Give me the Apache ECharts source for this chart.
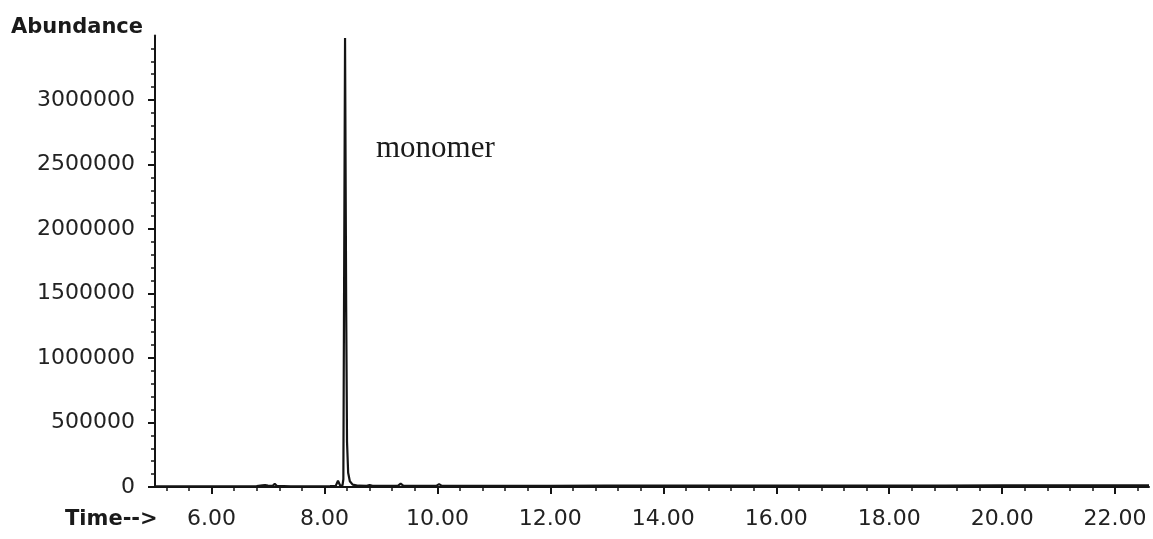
<!DOCTYPE html>
<html>
<head>
<meta charset="utf-8">
<script src="https://cdn.jsdelivr.net/npm/echarts@6/dist/echarts.min.js"></script>
<style>
  html, body { margin: 0; padding: 0; background: #ffffff; }
  #chart { width: 1153px; height: 539px; }
</style>
</head>
<body>
<div id="chart"></div>
<script>
// Retention time (min) and abundance
const times = [5.0, 5.5, 6.0, 6.5, 6.8, 6.9, 6.95, 7.0, 7.08, 7.12, 7.16, 7.4, 7.8, 8.1, 8.2, 8.24, 8.28, 8.32, 8.335, 8.365, 8.385, 8.40, 8.42, 8.45, 8.50, 8.6, 8.75, 8.8, 8.85, 9.0, 9.3, 9.35, 9.4, 9.7, 9.98, 10.03, 10.08, 11.0, 12.0, 13.0, 14.0, 15.0, 16.0, 17.0, 18.0, 19.0, 20.0, 21.0, 22.0, 22.6];
const abundance = [5000, 5000, 5000, 6000, 7000, 12000, 14000, 11000, 8000, 24000, 8000, 6000, 6000, 7000, 9000, 48000, 10000, 12000, 60000, 3480000, 1400000, 350000, 110000, 45000, 18000, 10000, 9000, 16000, 9000, 9000, 9000, 26000, 9000, 9000, 9000, 22000, 9000, 9000, 9000, 10000, 10000, 10000, 10000, 11000, 11000, 11000, 12000, 12000, 12000, 12000];

const xTickValues = [6, 8, 10, 12, 14, 16, 18, 20, 22];
const yTickValues = [0, 500000, 1000000, 1500000, 2000000, 2500000, 3000000];
const yAxisTitle = 'Abundance';
const xAxisTitle = 'Time-->';
const peakLabel = 'monomer';

const xMinorValues = [];
for (let k = 13; k <= 56; k++) {
  const v = Math.round(k * 0.4 * 100) / 100;
  if (Math.abs(v / 2 - Math.round(v / 2)) > 1e-6) xMinorValues.push(v);
}

const ink = '#141414';
const chart = echarts.init(document.getElementById('chart'), null, { renderer: 'canvas' });
chart.setOption({
  backgroundColor: '#ffffff',
  animation: false,
  grid: { left: 155, right: 4, top: 35.5, bottom: 52, containLabel: false },
  xAxis: [
    {
      type: 'value', min: 5, max: 22.6, position: 'bottom',
      axisLine: { show: true, onZero: false, lineStyle: { color: ink, width: 2 } },
      axisTick: { show: true, customValues: xTickValues, length: 7, lineStyle: { color: ink, width: 2 } },
      axisLabel: {
        show: true, customValues: xTickValues, margin: 21,
        formatter: v => v.toFixed(2),
        fontFamily: 'DejaVu Sans', fontSize: 22, color: '#222'
      },
      splitLine: { show: false }
    },
    {
      type: 'value', min: 5, max: 22.6, position: 'bottom',
      axisLine: { show: false },
      axisTick: { show: true, customValues: xMinorValues, length: 4, lineStyle: { color: ink, width: 1.5 } },
      axisLabel: { show: false },
      splitLine: { show: false }
    }
  ],
  yAxis: {
    type: 'value', min: 0, max: 3500000, interval: 500000,
    axisLine: { show: true, lineStyle: { color: ink, width: 2 } },
    axisTick: { show: true, customValues: yTickValues, length: 7, lineStyle: { color: ink, width: 2 } },
    minorTick: { show: true, splitNumber: 5, length: 4, lineStyle: { color: ink, width: 1.5 } },
    axisLabel: {
      show: true, customValues: yTickValues, margin: 20,
      formatter: v => String(v),
      fontFamily: 'DejaVu Sans', fontSize: 22, color: '#222'
    },
    splitLine: { show: false }
  },
  series: [{
    type: 'line',
    xAxisIndex: 0,
    data: times.map((t, i) => [t, abundance[i]]),
    showSymbol: false,
    symbol: 'none',
    lineStyle: { color: ink, width: 2.2 },
    z: 3
  }],
  graphic: [
    { type: 'text', left: 11, top: 17, style: { text: yAxisTitle, font: 'bold 21px "DejaVu Sans"', fill: '#1a1a1a' } },
    { type: 'text', left: 65, top: 509, style: { text: xAxisTitle, font: 'bold 21px "DejaVu Sans"', fill: '#1a1a1a' } },
    { type: 'text', left: 376, top: 133, style: { text: peakLabel, font: '31px "Liberation Serif"', fill: '#1a1a1a' } }
  ]
});
</script>
</body>
</html>
